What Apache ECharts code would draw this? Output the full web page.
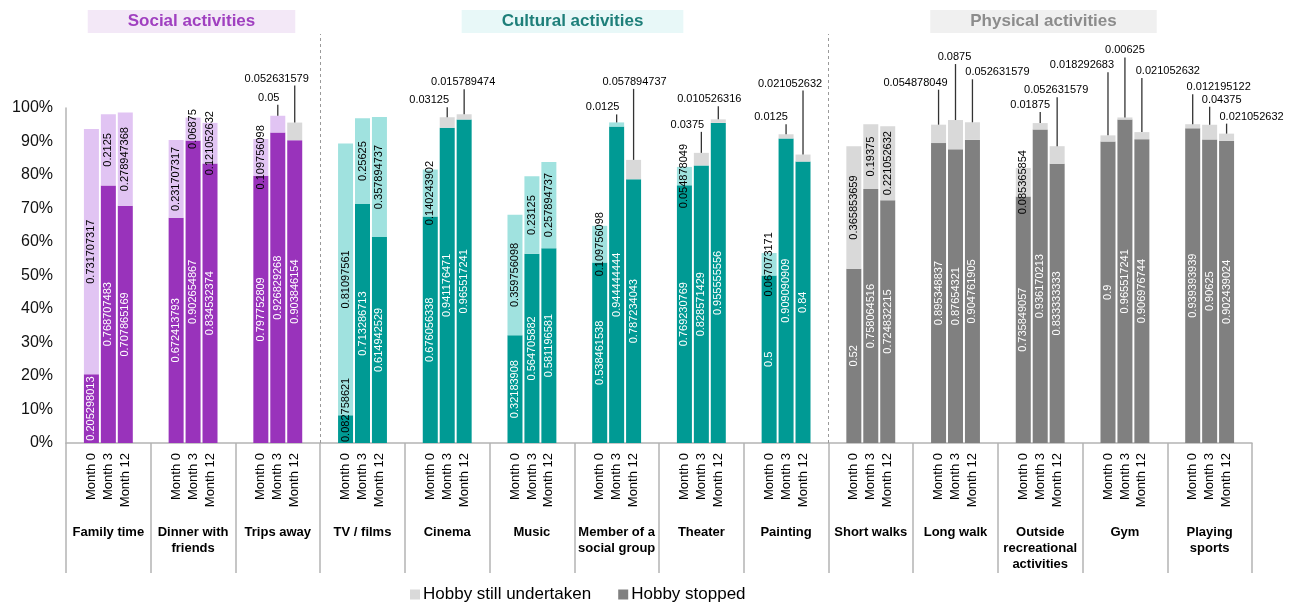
<!DOCTYPE html>
<html>
<head>
<meta charset="utf-8">
<script src="https://cdn.jsdelivr.net/npm/echarts@6/dist/echarts.min.js"></script>
<style>html,body{margin:0;padding:0;background:#fff}#c{width:1293px;height:606px}</style>
</head>
<body>
<div id="c"></div>
<script>
// ---- data ----
const groups = ['Family time','Dinner with\nfriends','Trips away','TV / films','Cinema','Music','Member of a\nsocial group','Theater','Painting','Short walks','Long walk','Outside\nrecreational\nactivities','Gym','Playing\nsports'];
const months = ['Month 0','Month 3','Month 12'];
const sectionOf = ['social','social','social','cultural','cultural','cultural','cultural','cultural','cultural','physical','physical','physical','physical','physical'];
const yTicks = ['0%','10%','20%','30%','40%','50%','60%','70%','80%','90%','100%'];
// Hobby stopped (dark, bottom)
const hobbyStopped = [
  [0.205298013, 0.768707483, 0.707865169],
  [0.672413793, 0.902654867, 0.834532374],
  [0.797752809, 0.926829268, 0.903846154],
  [0.082758621, 0.713286713, 0.614942529],
  [0.676056338, 0.941176471, 0.965517241],
  [0.32183908, 0.564705882, 0.581196581],
  [0.538461538, 0.944444444, 0.787234043],
  [0.769230769, 0.828571429, 0.955555556],
  [0.5, 0.909090909, 0.84],
  [0.52, 0.758064516, 0.724832215],
  [0.895348837, 0.87654321, 0.904761905],
  [0.735849057, 0.936170213, 0.833333333],
  [0.9, 0.965517241, 0.906976744],
  [0.939393939, 0.90625, 0.902439024]
];
// Hobby still undertaken (light, top)
const hobbyStillUndertaken = [
  [0.731707317, 0.2125, 0.278947368],
  [0.231707317, 0.06875, 0.121052632],
  [0.109756098, 0.05, 0.052631579],
  [0.81097561, 0.25625, 0.357894737],
  [0.140243902, 0.03125, 0.015789474],
  [0.359756098, 0.23125, 0.257894737],
  [0.109756098, 0.0125, 0.057894737],
  [0.054878049, 0.0375, 0.010526316],
  [0.067073171, 0.0125, 0.021052632],
  [0.365853659, 0.19375, 0.221052632],
  [0.054878049, 0.0875, 0.052631579],
  [0.085365854, 0.01875, 0.052631579],
  [0.018292683, 0.00625, 0.021052632],
  [0.012195122, 0.04375, 0.021052632]
];

// ---- styles / layout ----
const palette = {
  social:   {dark:'#9933bb', light:'#e1c4f3'},
  cultural: {dark:'#009a94', light:'#a0e2df'},
  physical: {dark:'#808080', light:'#d9d9d9'}
};
const greyTop = ['2-2','4-1','4-2','6-2','7-1','7-2','8-1','8-2'];
const bottomLabel = ['3-0'];
const sectionBreaks = [3, 9];
// callout labels: [group, month, dx(px), rise(px)]
const callouts = [
  [2,1,-9,18],[2,2,-18,44],
  [4,1,-18,17],[4,2,-1,32],
  [6,1,-14,15],[6,2,1,78],
  [7,1,-14,28],[7,2,-9,20],
  [8,1,-15,17],[8,2,-13,71],
  [10,0,-23,42],[10,1,-1,63],[10,2,25,50],
  [11,1,-10,18],[11,2,-1,56],
  [12,0,-26,70],[12,1,0,67],[12,2,26,61],
  [13,0,26,37],[13,1,12,25],[13,2,25,17]
];
const calloutKeys = callouts.map(c => c[0]+'-'+c[1]);
const SLOTS = 5;
const FONT = '"Liberation Sans", Arial, sans-serif';

const cats = [], darkData = [], lightData = [];
groups.forEach((g, gi) => {
  for (let s = 0; s < SLOTS; s++) {
    cats.push('c' + gi + '_' + s);
    const m = s - 1;
    if (m < 0 || m > 2) { darkData.push('-'); lightData.push('-'); continue; }
    const pal = palette[sectionOf[gi]];
    const key = gi + '-' + m;
    const dItem = {value: hobbyStopped[gi][m], itemStyle: {color: pal.dark}};
    if (bottomLabel.includes(key)) dItem.label = {position: 'insideBottom', align: 'left', verticalAlign: 'middle', distance: 1, color: '#000'};
    darkData.push(dItem);
    const item = {value: hobbyStillUndertaken[gi][m], itemStyle: {color: greyTop.includes(key) ? palette.physical.light : pal.light}};
    if (calloutKeys.includes(key)) item.label = {show: false};
    lightData.push(item);
  }
});
const calloutData = callouts.map(c => {
  const gi = c[0], m = c[1];
  return {value: [gi * SLOTS + 1 + m, hobbyStopped[gi][m] + hobbyStillUndertaken[gi][m]], text: String(hobbyStillUndertaken[gi][m]), dx: c[2], rise: c[3]};
});

const chart = echarts.init(document.getElementById('c'), null, {renderer: 'canvas'});
const PADX = 40;
const titleBase = (text, cx, color, bg) => ({
  text, left: cx - PADX, top: 10, textAlign: 'center', backgroundColor: bg, padding: [3, PADX],
  textStyle: {fontFamily: FONT, fontSize: 17, fontWeight: 'bold', color, lineHeight: 17}
});
chart.setOption({
  animation: false,
  textStyle: {fontFamily: FONT},
  title: [
    titleBase('Social activities', 191.5, '#a040c0', '#f3e8f7'),
    titleBase('Cultural activities', 572.5, '#1e7f7a', '#e8f8f8'),
    titleBase('Physical activities', 1043.5, '#8c8c8c', '#f0f0f0')
  ],
  legend: {
    data: ['Hobby still undertaken', 'Hobby stopped'],
    left: 405, top: 581, icon: 'rect', itemWidth: 10, itemHeight: 10, itemGap: 27,
    textStyle: {fontFamily: FONT, fontSize: 17, color: '#000', padding: [0, 0, 0, -2]}
  },
  grid: [
    {left: 66, right: 41, top: 108, bottom: 163},
    {left: 66, right: 41, top: 34, bottom: 163}
  ],
  xAxis: [
    {type: 'category', gridIndex: 0, data: cats, position: 'bottom',
     axisLine: {show: true, lineStyle: {color: '#b4b4b4', width: 1.5}},
     axisTick: {show: false},
     axisLabel: {interval: 0, rotate: 90, margin: 10, fontSize: 13, color: '#000', fontFamily: FONT,
       formatter: (v, i) => { const s = i % SLOTS - 1; return (s >= 0 && s <= 2) ? months[s] : ''; }}
    },
    {type: 'category', gridIndex: 0, data: groups, position: 'bottom',
     axisLine: {show: false},
     axisTick: {show: true, length: 130, interval: 0, lineStyle: {color: '#b4b4b4', width: 1.5}},
     axisLabel: {interval: 0, margin: 81, fontSize: 13, fontWeight: 'bold', color: '#000', lineHeight: 16, fontFamily: FONT, verticalAlign: 'top'}
    },
    {type: 'value', gridIndex: 1, min: 0, max: groups.length, show: false, splitLine: {show: false}}
  ],
  yAxis: [
    {type: 'value', gridIndex: 0, min: 0, max: 1, interval: 0.1,
     axisLine: {show: true, lineStyle: {color: '#b4b4b4', width: 1.5}},
     axisTick: {show: false}, splitLine: {show: false},
     axisLabel: {fontSize: 16, color: '#111', margin: 13, fontFamily: FONT,
       formatter: (v) => yTicks[Math.round(v * 10)]}
    },
    {type: 'value', gridIndex: 1, min: 0, max: 1, show: false, splitLine: {show: false}}
  ],
  series: [
    {name: 'Hobby stopped', type: 'bar', stack: 'a', xAxisIndex: 0, yAxisIndex: 0, barWidth: 15,
     itemStyle: {color: '#808080'}, data: darkData,
     label: {show: true, position: 'inside', rotate: 90, color: '#fff', fontSize: 11, fontFamily: FONT,
       formatter: p => String(p.value)}
    },
    {name: 'Hobby still undertaken', type: 'bar', stack: 'a', xAxisIndex: 0, yAxisIndex: 0, barWidth: 15,
     itemStyle: {color: '#d9d9d9'}, data: lightData,
     label: {show: true, position: 'inside', rotate: 90, color: '#000', fontSize: 11, fontFamily: FONT,
       formatter: p => String(p.value)}
    },
    {type: 'custom', xAxisIndex: 0, yAxisIndex: 0, z: 10, silent: true, clip: false,
     data: calloutData,
     renderItem: (params, api) => {
       const d = calloutData[params.dataIndex];
       const p = api.coord([api.value(0), api.value(1)]);
       return {type: 'group', children: [
         {type: 'line', shape: {x1: p[0], y1: p[1], x2: p[0], y2: p[1] - d.rise + 7}, style: {stroke: '#333', lineWidth: 1.3}},
         {type: 'text', style: {x: p[0] + d.dx, y: p[1] - d.rise, text: d.text, align: 'center', verticalAlign: 'middle', fontSize: 11, fontFamily: FONT, fill: '#000'}}
       ]};
     }
    },
    {type: 'line', name: 'sections', xAxisIndex: 2, yAxisIndex: 1, data: [[0, 0]], symbol: 'none', silent: true,
     lineStyle: {opacity: 0}, z: 1,
     markLine: {symbol: 'none', silent: true, animation: false, label: {show: false},
       lineStyle: {color: '#9a9a9a', type: [3, 3], width: 1},
       data: sectionBreaks.map(b => ({xAxis: b}))}
    }
  ]
});
</script>
</body>
</html>
